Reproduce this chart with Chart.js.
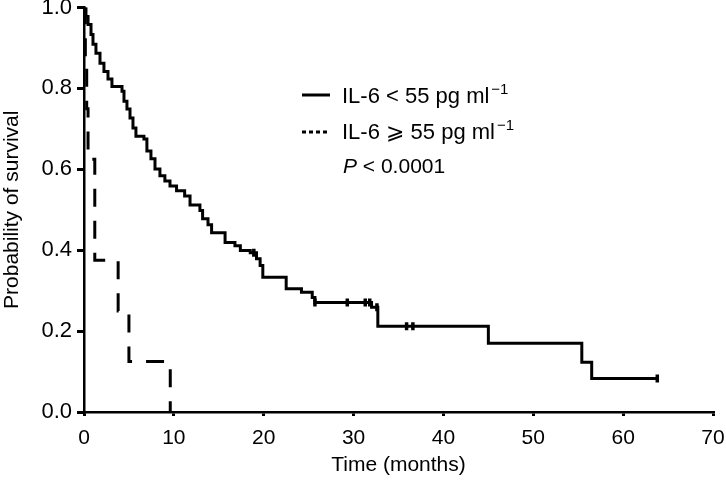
<!DOCTYPE html>
<html>
<head>
<meta charset="utf-8">
<script src="https://cdn.jsdelivr.net/npm/chart.js@4.4.1/dist/chart.umd.min.js"></script>
<style>
  html, body { margin: 0; padding: 0; background: #fff; }
  #wrap { width: 726px; height: 481px; }
</style>
</head>
<body>
<div id="wrap"><canvas id="km" width="726" height="481"></canvas></div>
<script>
// Kaplan-Meier steps, IL-6 < 55 pg/ml (time in months, survival after the step)
const lowTimes = [0, 0.22, 0.45, 0.78, 1.0, 1.33, 1.78, 2.22, 2.67, 3.11, 4.23, 4.45, 4.78, 5.12, 5.45, 5.78,
  6.67, 7.0, 7.45, 7.9, 8.45, 9.0, 9.57, 10.3, 11.2, 11.8, 12.9, 13.2, 13.8, 14.2, 15.7, 16.8, 17.4, 18.5,
  19.2, 19.6, 19.9, 22.5, 24.2, 25.4, 25.7, 32.0, 32.7, 45.0, 55.4, 56.5, 63.8]
const lowSurv = [1, 0.978, 0.958, 0.933, 0.909, 0.887, 0.862, 0.842, 0.823, 0.805, 0.793, 0.768, 0.749, 0.727, 0.702, 0.682,
  0.675, 0.645, 0.626, 0.601, 0.584, 0.571, 0.559, 0.547, 0.534, 0.512, 0.498, 0.478, 0.463, 0.443, 0.419, 0.411, 0.399, 0.394,
  0.379, 0.362, 0.333, 0.305, 0.296, 0.283, 0.271, 0.259, 0.212, 0.170, 0.123, 0.083, 0.083]
const lowCensored = [18.9, 25.7, 29.3, 31.3, 31.8, 32.6, 35.9, 36.6, 63.8]

// IL-6 >= 55 pg/ml
const highTimes = [0, 0.15, 0.3, 0.45, 1.2, 3.8, 5.0, 9.6]
const highSurv = [1, 0.875, 0.75, 0.625, 0.375, 0.25, 0.125, 0]

const xTicks = [0, 10, 20, 30, 40, 50, 60, 70]
const yTicks = [0, 0.2, 0.4, 0.6, 0.8, 1.0]

const FONT = '"Liberation Sans", Arial, Helvetica, "DejaVu Sans", sans-serif'

const toPoints = (xs, ys) => xs.map((x, i) => ({ x, y: ys[i] }))

// survival level at a censored time, read from the step arrays
const survAt = (t) => {
  let s = lowSurv[0]
  lowTimes.forEach((x, i) => { if (x <= t) s = lowSurv[i] })
  return s
}

// legend + P value drawn as text on the canvas
const legendPlugin = {
  id: 'kmLegend',
  afterDraw(chart) {
    const ctx = chart.ctx
    ctx.save()
    ctx.fillStyle = '#000'
    ctx.strokeStyle = '#000'
    ctx.lineWidth = 3

    const rows = [
      { y: 95, base: 103, dash: [], text: 'IL-6 < 55 pg ml' },
      { y: 132, base: 139, dash: [4, 3], text: 'IL-6 \u2A7E 55 pg ml' }
    ]
    rows.forEach(r => {
      ctx.setLineDash(r.dash)
      ctx.beginPath()
      ctx.moveTo(302, r.y)
      ctx.lineTo(330, r.y)
      ctx.stroke()
      ctx.font = '22px ' + FONT
      ctx.textBaseline = 'alphabetic'
      ctx.textAlign = 'left'
      ctx.fillText(r.text, 342, r.base)
      const w = ctx.measureText(r.text).width
      ctx.font = '15px ' + FONT
      ctx.fillText('\u22121', 342 + w + 2, r.base - 9)
    })
    ctx.setLineDash([])

    ctx.font = 'italic 21px ' + FONT
    ctx.fillText('P', 343, 173)
    const pw = ctx.measureText('P').width
    ctx.font = '21px ' + FONT
    ctx.fillText(' < 0.0001', 343 + pw, 173)
    ctx.restore()
  }
}

new Chart(document.getElementById('km'), {
  type: 'line',
  data: {
    datasets: [
      {
        label: 'IL-6 < 55 pg ml-1',
        data: toPoints(lowTimes, lowSurv),
        stepped: true,
        borderColor: '#000',
        borderWidth: 3,
        pointRadius: 0,
        fill: false
      },
      {
        label: 'censored',
        data: lowCensored.map(t => ({ x: t, y: survAt(t) })),
        showLine: false,
        pointStyle: 'line',
        rotation: 90,
        pointRadius: 4,
        pointBorderWidth: 3.5,
        borderColor: '#000'
      },
      {
        label: 'IL-6 >= 55 pg ml-1',
        data: toPoints(highTimes, highSurv),
        stepped: true,
        borderColor: '#000',
        borderWidth: 3,
        borderDash: [18, 14],
        pointRadius: 0,
        fill: false
      }
    ]
  },
  options: {
    responsive: false,
    animation: false,
    layout: { padding: { left: 0, right: 13, top: 6, bottom: 0 } },
    plugins: {
      legend: { display: false },
      tooltip: { enabled: false }
    },
    scales: {
      x: {
        type: 'linear',
        min: 0,
        max: 70,
        afterBuildTicks: s => { s.ticks = xTicks.map(v => ({ value: v })) },
        ticks: { color: '#000', font: { family: FONT, size: 21 }, padding: 10, maxRotation: 0 },
        grid: { drawOnChartArea: false, drawTicks: true, tickLength: 4, color: '#000', lineWidth: 3 },
        border: { display: true, color: '#000', width: 2.5 },
        title: { display: true, text: 'Time (months)', color: '#000', font: { family: FONT, size: 21 }, padding: { bottom: 3, top: 0 } },
        afterFit: s => { s.height = 69; s.paddingLeft = 0; s.paddingRight = 0 }
      },
      y: {
        min: 0,
        max: 1,
        afterBuildTicks: s => { s.ticks = yTicks.map(v => ({ value: v })) },
        ticks: { color: '#000', font: { family: FONT, size: 22 }, padding: 5, callback: v => v.toFixed(1) },
        grid: { drawOnChartArea: false, drawTicks: true, tickLength: 7, color: '#000', lineWidth: 3 },
        border: { display: true, color: '#000', width: 2.5 },
        title: { display: true, text: 'Probability of survival', color: '#000', font: { family: FONT, size: 21 }, padding: { top: 0, bottom: 0 } },
        afterFit: s => { s.width = 84; s.paddingTop = 0; s.paddingBottom = 0 }
      }
    }
  },
  plugins: [legendPlugin]
})
</script>
</body>
</html>
